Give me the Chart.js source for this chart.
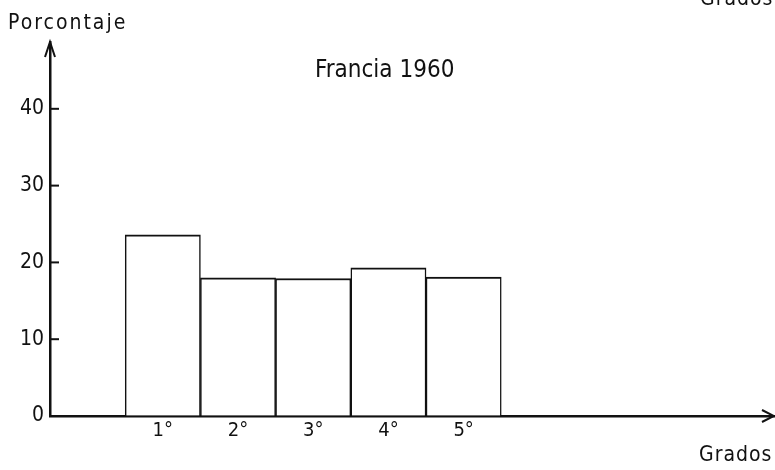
<!DOCTYPE html>
<html>
<head>
<meta charset="utf-8">
<script src="https://cdn.jsdelivr.net/npm/chart.js@4/dist/chart.umd.min.js"></script>
<style>
  body { margin: 0; background: #fff; }
  #grafico { display: block; }
</style>
</head>
<body>
<canvas id="grafico" width="775" height="470"></canvas>
<script>
// ---------------------------------------------------------------------------- datos
const grados = ['1°', '2°', '3°', '4°', '5°'];
const posiciones = [1.5, 2.5, 3.5, 4.5, 5.5];
const porcentajes = [23.6, 18.0, 17.9, 19.3, 18.1];
const ticksY = [0, 10, 20, 30, 40];

const fuente = "'DejaVu Sans Condensed', 'DejaVu Sans', sans-serif";
const tinta = '#111';

// ---------------------------------------------------------------------------- flechas + textos
const decorado = {
    id: 'decorado',
    afterDraw: (chart) => {
        const ctx = chart.ctx;
        const area = chart.chartArea;
        const sy = chart.scales.y;
        ctx.save();
        ctx.strokeStyle = tinta;
        ctx.fillStyle = tinta;
        ctx.lineWidth = 2;
        // marcas del eje Y hacia dentro
        ticksY.forEach(v => {
            if (v === 0) return;
            const y = sy.getPixelForValue(v);
            ctx.beginPath();
            ctx.moveTo(area.left, y);
            ctx.lineTo(area.left + 9, y);
            ctx.stroke();
        });
        // flecha eje Y
        ctx.beginPath();
        ctx.moveTo(area.left - 5, area.top + 15);
        ctx.lineTo(area.left, area.top);
        ctx.lineTo(area.left + 5, area.top + 15);
        ctx.stroke();
        // flecha eje X
        ctx.beginPath();
        ctx.moveTo(area.right - 13, area.bottom - 6);
        ctx.lineTo(area.right - 1, area.bottom);
        ctx.lineTo(area.right - 13, area.bottom + 6);
        ctx.stroke();
        // textos
        ctx.textBaseline = 'alphabetic';
        ctx.textAlign = 'left';
        ctx.font = `21px ${fuente}`;
        ctx.letterSpacing = '2px';
        ctx.fillText('Porcontaje', 8, 29);
        ctx.letterSpacing = '1px';
        ctx.fillText('Grados', 699, 461);
        ctx.fillText('Grados', 700, 5);
        ctx.letterSpacing = '0px';
        ctx.font = `24px ${fuente}`;
        ctx.fillText('Francia 1960', 315, 77);
        ctx.restore();
    }
};

// ---------------------------------------------------------------------------- grafico
const ctx = document.getElementById('grafico').getContext('2d');
const myChart = new Chart(ctx, {
    type: 'bar',
    data: {
        datasets: [{
            data: porcentajes.map((v, i) => ({x: posiciones[i], y: v})),
            backgroundColor: '#fff',
            borderColor: tinta,
            borderWidth: {top: 2, left: 1.5, right: 1.5, bottom: 0},
            barPercentage: 1,
            categoryPercentage: 1
        }]
    },
    options: {
        responsive: false,
        animation: false,
        layout: {
            padding: {top: 42, right: 0, left: 0, bottom: 0}
        },
        plugins: {
            legend: {display: false},
            tooltip: {enabled: false}
        },
        scales: {
            x: {
                type: 'linear',
                offset: false,
                min: 0,
                max: 9.64,
                afterFit: (s) => { s.height = 54; },
                afterBuildTicks: (s) => { s.ticks = posiciones.map(v => ({value: v})); },
                ticks: {
                    callback: (v, i) => grados[i],
                    font: {family: fuente, size: 20},
                    color: tinta,
                    padding: 3,
                    maxRotation: 0,
                    autoSkip: false
                },
                grid: {drawOnChartArea: false, drawTicks: false},
                border: {color: tinta, width: 2.5}
            },
            y: {
                min: 0,
                max: 48.7,
                afterFit: (s) => { s.width = 50; },
                afterBuildTicks: (s) => { s.ticks = ticksY.map(v => ({value: v})); },
                ticks: {
                    font: {family: fuente, size: 21},
                    color: tinta,
                    padding: 6
                },
                grid: {drawOnChartArea: false, drawTicks: false},
                border: {color: tinta, width: 2.5}
            }
        }
    },
    plugins: [decorado]
});
</script>
</body>
</html>
